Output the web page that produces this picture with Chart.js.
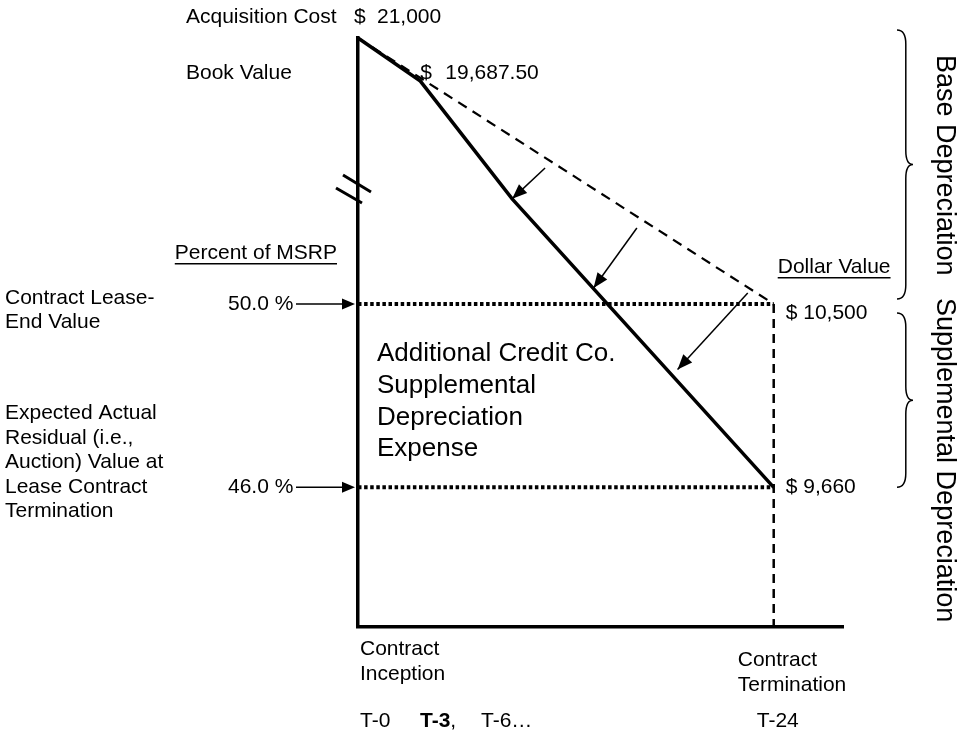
<!DOCTYPE html>
<html>
<head>
<meta charset="utf-8">
<title>Lease depreciation</title>
<script src="https://cdn.jsdelivr.net/npm/chart.js@4.4.1/dist/chart.umd.min.js"></script>
<style>
  html, body { margin: 0; padding: 0; background: #fff; }
  #wrap { width: 959px; height: 730px; position: relative; }
</style>
</head>
<body>
<div id="wrap"><canvas id="leaseChart"></canvas></div>
<script>
// --- data (months since inception, dollar value) ---
const acquisitionCost = 21000;
const bookValueT3 = 19687.5;
const leaseEndValue = 10500;    // 50.0 % of MSRP
const residualValue = 9660;     // 46.0 % of MSRP
const termMonth = 24;

const straightMonths = [0, 24];
const straightValues = [21000, 10500];

const bookMonths = [0, 3.6, 8.9, 24];
const bookValues = [21000, 19300, 14650, 9660];

// supplemental depreciation arrows (from dashed line to solid line)
const arrowFromMonths = [10.8, 16.1, 22.5];
const arrowFromValues = [15870, 13500, 10930];
const arrowToMonths = [8.9, 13.6, 18.45];
const arrowToValues = [14650, 11130, 10200];

const periodLabels = ['T-0', 'T-3', 'T-6\u2026', 'T-24'];

const FONT = '"Liberation Sans", Arial, Helvetica, sans-serif';
const font = (size, bold) => (bold ? 'bold ' : '') + size + 'px ' + FONT;

// y axis with a break: below the lease-end value the scale is stretched
class SplitScale extends Chart.LinearScale {
  getPixelForValue(value) {
    const b = this.options.breakAt;
    let dec;
    if (value <= b.value) {
      dec = (value - this.min) / (b.value - this.min) * b.fraction;
    } else {
      dec = b.fraction + (value - b.value) / (this.max - b.value) * (1 - b.fraction);
    }
    return this.getPixelForDecimal(dec);
  }
  getValueForPixel(pixel) {
    const b = this.options.breakAt;
    const dec = this.getDecimalForPixel(pixel);
    if (dec <= b.fraction) return this.min + dec / b.fraction * (b.value - this.min);
    return b.value + (dec - b.fraction) / (1 - b.fraction) * (this.max - b.value);
  }
}
SplitScale.id = 'split';
SplitScale.defaults = {};
Chart.register(SplitScale);

const pts = (xs, ys) => xs.map((x, i) => ({ x: x, y: ys[i] }));

const datasets = [
  {
    label: 'Straight-line',
    data: pts(straightMonths, straightValues),
    borderColor: '#000', borderWidth: 2.2, borderDash: [10, 7]
  },
  {
    label: 'Book value',
    data: pts(bookMonths, bookValues),
    borderColor: '#000', borderWidth: 3.5, borderJoinStyle: 'miter'
  },
  {
    label: 'Lease-end value',
    data: pts([0, termMonth], [leaseEndValue, leaseEndValue]),
    borderColor: '#000', borderWidth: 4, borderDash: [3.5, 2.6]
  },
  {
    label: 'Residual value',
    data: pts([0, termMonth], [residualValue, residualValue]),
    borderColor: '#000', borderWidth: 4, borderDash: [3.5, 2.6]
  },
  {
    label: 'Termination',
    data: pts([termMonth, termMonth], [leaseEndValue, 9000]),
    borderColor: '#000', borderWidth: 2.5, borderDash: [9, 6]
  }
];
arrowFromMonths.forEach((m, i) => {
  datasets.push({
    label: 'arrow' + i,
    arrow: true,
    data: [{ x: m, y: arrowFromValues[i] }, { x: arrowToMonths[i], y: arrowToValues[i] }],
    borderColor: '#000', borderWidth: 1.5
  });
});
datasets.forEach(d => { d.pointRadius = 0; d.clip = false; d.fill = false; });

function arrowHead(ctx, x1, y1, x2, y2, len, half) {
  const a = Math.atan2(y2 - y1, x2 - x1);
  ctx.beginPath();
  ctx.moveTo(x2, y2);
  ctx.lineTo(x2 - len * Math.cos(a) + half * Math.sin(a), y2 - len * Math.sin(a) - half * Math.cos(a));
  ctx.lineTo(x2 - len * Math.cos(a) - half * Math.sin(a), y2 - len * Math.sin(a) + half * Math.cos(a));
  ctx.closePath();
  ctx.fill();
}

function brace(ctx, x, top, bottom, w) {
  const mid = (top + bottom) / 2, r = 14, xm = x + w * 0.55;
  ctx.beginPath();
  ctx.moveTo(x, top);
  ctx.quadraticCurveTo(xm, top, xm, top + r);
  ctx.lineTo(xm, mid - r);
  ctx.quadraticCurveTo(xm, mid, x + w, mid);
  ctx.quadraticCurveTo(xm, mid, xm, mid + r);
  ctx.lineTo(xm, bottom - r);
  ctx.quadraticCurveTo(xm, bottom, x, bottom);
  ctx.stroke();
}

function lines(ctx, arr, x, y, step) {
  arr.forEach((s, i) => ctx.fillText(s, x, y + i * step));
}

const annotations = {
  id: 'annotations',
  afterDatasetsDraw(chart) {
    const ctx = chart.ctx;
    ctx.save();
    ctx.fillStyle = '#000';
    chart.data.datasets.forEach((d, i) => {
      if (!d.arrow) return;
      const p = chart.getDatasetMeta(i).data;
      arrowHead(ctx, p[0].x, p[0].y, p[1].x, p[1].y, 15, 6);
    });
    ctx.restore();
  },
  afterDraw(chart) {
    const { ctx, chartArea: a, scales: { x, y } } = chart;
    const x0 = a.left;
    const yTop = y.getPixelForValue(acquisitionCost);
    const y50 = y.getPixelForValue(leaseEndValue);
    const y46 = y.getPixelForValue(residualValue);
    const xT = x.getPixelForValue(termMonth);
    const yBook = y.getPixelForValue(bookValueT3);
    const yAxis = a.bottom;

    ctx.save();
    ctx.fillStyle = '#000';
    ctx.strokeStyle = '#000';
    ctx.textBaseline = 'middle';
    ctx.textAlign = 'left';

    // axis break marks
    ctx.lineWidth = 3;
    ctx.beginPath();
    ctx.moveTo(x0 - 15, 175); ctx.lineTo(x0 + 13, 192);
    ctx.moveTo(x0 - 22, 188); ctx.lineTo(x0 + 4, 203);
    ctx.stroke();

    // top labels
    ctx.font = font(21);
    ctx.fillText('Acquisition Cost', 186, yTop - 21);
    ctx.fillText('$', x0 - 4, yTop - 21);
    ctx.fillText('21,000', x0 + 19, yTop - 21);
    ctx.fillText('Book Value', 186, yBook + 2);
    ctx.fillText('$', x.getPixelForValue(3.6), yBook + 2);
    ctx.fillText('19,687.50', x.getPixelForValue(3.6) + 25, yBook + 2);

    // headers
    ctx.textAlign = 'right';
    ctx.fillText('Percent of MSRP', 337, 253);
    let w = ctx.measureText('Percent of MSRP').width;
    ctx.fillRect(337 - w, 263, w, 1.5);
    ctx.textAlign = 'left';
    ctx.fillText('Dollar Value', xT + 4, 267);
    w = ctx.measureText('Dollar Value').width;
    ctx.fillRect(xT + 4, 277, w, 1.5);

    // left side labels
    lines(ctx, ['Contract Lease-', 'End Value'], 5, y50 - 6, 24);
    lines(ctx, ['Expected Actual', 'Residual (i.e.,', 'Auction) Value at', 'Lease Contract', 'Termination'], 5, y46 - 74, 24.5);
    ctx.fillText('50.0 %', 228, y50);
    ctx.fillText('46.0 %', 228, y46);

    // arrows into the axis
    ctx.lineWidth = 1.5;
    [y50, y46].forEach(yy => {
      ctx.beginPath();
      ctx.moveTo(x0 - 62, yy); ctx.lineTo(x0 - 10, yy);
      ctx.stroke();
      arrowHead(ctx, x0 - 62, yy, x0 - 3, yy, 13, 5.5);
    });

    // right side values
    ctx.fillText('$ 10,500', xT + 12, y50 + 9);
    ctx.fillText('$ 9,660', xT + 12, y46);

    // centre text
    ctx.font = font(26);
    lines(ctx, ['Additional Credit Co.', 'Supplemental', 'Depreciation', 'Expense'], x0 + 19, 354, 31.7);

    // bottom labels
    ctx.font = font(21);
    lines(ctx, ['Contract', 'Inception'], x0 + 2, yAxis + 22, 25);
    lines(ctx, ['Contract', 'Termination'], xT - 36, yAxis + 33, 25);
    ctx.fillText(periodLabels[0], x0 + 2, 721);
    ctx.font = font(21, true);
    ctx.fillText(periodLabels[1], x0 + 62, 721);
    const tw = ctx.measureText(periodLabels[1]).width;
    ctx.font = font(21);
    ctx.fillText(',', x0 + 62 + tw, 721);
    ctx.fillText(periodLabels[2], x0 + 123, 721);
    ctx.fillText(periodLabels[3], xT - 17, 721);

    // braces
    ctx.lineWidth = 1.5;
    brace(ctx, 897, yTop - 8, y50 - 5, 16);
    brace(ctx, 897, y50 + 9, y46, 16);

    // rotated side text
    ctx.save();
    ctx.translate(944, 0);
    ctx.rotate(Math.PI / 2);
    ctx.textAlign = 'left';
    ctx.font = font(27);
    ctx.fillText('Base Depreciation', 55, 0);
    ctx.fillText('Supplemental Depreciation', 298, 0);
    ctx.restore();

    ctx.restore();
  }
};

new Chart(document.getElementById('leaseChart').getContext('2d'), {
  type: 'line',
  data: { datasets: datasets },
  plugins: [annotations],
  options: {
    responsive: true,
    maintainAspectRatio: false,
    animation: false,
    events: [],
    layout: { padding: { left: 358, right: 116, top: 38, bottom: 103 } },
    plugins: {
      legend: { display: false },
      tooltip: { enabled: false },
      title: { display: false }
    },
    scales: {
      x: {
        type: 'linear',
        min: 0,
        max: 28,
        grid: { display: false, drawTicks: false },
        ticks: { display: false },
        border: { display: true, color: '#000', width: 3.5 }
      },
      y: {
        type: 'split',
        min: 9020,
        max: 21000,
        breakAt: { value: 10500, fraction: 0.5484 },
        grid: { display: false, drawTicks: false },
        ticks: { display: false },
        border: { display: true, color: '#000', width: 3.5 }
      }
    }
  }
});
</script>
</body>
</html>
